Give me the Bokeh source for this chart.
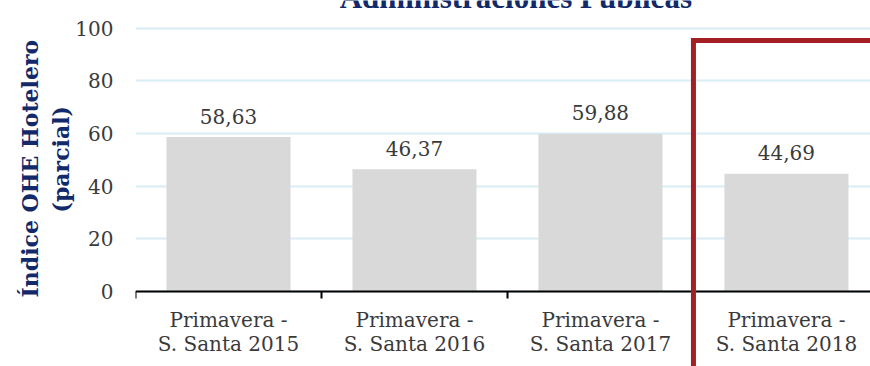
from bokeh.plotting import figure
from bokeh.models import Range1d, FixedTicker, LinearAxis, Title
from bokeh.core.properties import value
from bokeh.embed import file_html
from bokeh.resources import INLINE

# Data
periods = ["Primavera -\nS. Santa 2015", "Primavera -\nS. Santa 2016",
           "Primavera -\nS. Santa 2017", "Primavera -\nS. Santa 2018"]
index_values = [58.63, 46.37, 59.88, 44.69]
y_ticks = [0, 20, 40, 60, 80, 100]

title_text = "Administraciones Públicas"
ylabel_line1 = "Índice OHE Hotelero"
ylabel_line2 = "(parcial)"

NAVY = "#12296a"
RED = "#a41f24"
GREY_TEXT = "#3a3a3a"
SERIF = "DejaVu Serif"

centers = [i + 0.5 for i in range(len(periods))]
value_labels = [f"{v:.2f}".replace(".", ",") for v in index_values]

p = figure(width=870, height=366, output_backend="svg", toolbar_location=None,
           x_axis_type=None, x_range=Range1d(0, 3.952), y_range=Range1d(-28.5, 110.5),
           min_border_left=135, min_border_right=0, min_border_top=0, min_border_bottom=0)
p.outline_line_color = None
p.background_fill_color = "white"
p.border_fill_color = "white"
p.xgrid.visible = False

# Y axis and grid
p.yaxis.ticker = FixedTicker(ticks=y_ticks)
p.yaxis.axis_line_color = None
p.yaxis.major_tick_line_color = None
p.yaxis.minor_tick_line_color = None
p.yaxis.major_label_standoff = 16
p.yaxis.major_label_text_font = SERIF
p.yaxis.major_label_text_font_size = "20px"
p.yaxis.major_label_text_color = GREY_TEXT
p.ygrid.ticker = FixedTicker(ticks=y_ticks)
p.ygrid.grid_line_color = "#d9edf5"
p.ygrid.grid_line_width = 2

# Two-line vertical axis title
for txt, off, gap in [(ylabel_line2, 154, -3), (ylabel_line1, 69, 9)]:
    p.add_layout(Title(text=txt, align="left", offset=off, text_font=SERIF,
                       text_font_size="22px", text_font_style="bold",
                       text_color=NAVY, standoff=gap), "left")

# Category boundary ticks on the zero line
tick_axis = LinearAxis(ticker=FixedTicker(ticks=[0, 1, 2, 3]), fixed_location=0)
tick_axis.axis_line_width = 2
tick_axis.axis_line_color = "black"
tick_axis.major_tick_line_width = 2
tick_axis.major_tick_line_color = "black"
tick_axis.major_tick_out = 7
tick_axis.major_tick_in = 0
tick_axis.minor_tick_line_color = None
tick_axis.major_label_text_color = None
p.add_layout(tick_axis, "below")

# Category labels centred in each band
label_axis = LinearAxis(ticker=FixedTicker(ticks=centers), fixed_location=0)
label_axis.axis_line_color = None
label_axis.major_tick_line_color = None
label_axis.minor_tick_line_color = None
label_axis.major_label_overrides = {c: lab for c, lab in zip(centers, periods)}
label_axis.major_label_standoff = 11
label_axis.major_label_text_font = SERIF
label_axis.major_label_text_font_size = "20px"
label_axis.major_label_text_line_height = 1.0
label_axis.major_label_text_color = GREY_TEXT
p.add_layout(label_axis, "below")

# Bars and value labels
p.vbar(x=centers, top=index_values, width=0.667, fill_color="#d9d9d9", line_color=None)
p.text(x=centers, y=index_values, text=value_labels, y_offset=-21,
       text_align="center", text_baseline="alphabetic",
       text_font=value(SERIF), text_font_size="20px", text_color=GREY_TEXT)

# Chart heading (partly above the visible area)
p.text(x=[2.045], y=[108.2], text=[title_text], text_align="center",
       text_baseline="alphabetic", y_offset=-9, text_font=value("Liberation Serif"),
       text_font_size="31px", text_font_style="bold", text_color=NAVY)

# Highlight frame around the latest period
p.line(x=[3, 3, 4.5], y=[-40, 95.3, 95.3], line_color=RED, line_width=5,
       line_join="miter", level="overlay")

open("out.html", "w").write(file_html(p, INLINE))
